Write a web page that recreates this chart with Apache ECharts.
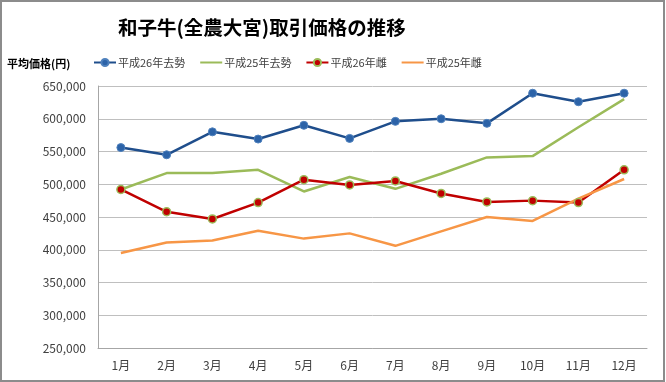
<!DOCTYPE html>
<html>
<head>
<meta charset="utf-8">
<script src="https://cdn.jsdelivr.net/npm/echarts@6/dist/echarts.min.js"></script>
<style>
html,body{margin:0;padding:0;background:#fff;}
#main{width:666px;height:382px;}
</style>
</head>
<body>
<div id="main"></div>
<script>
var categories = ['1月','2月','3月','4月','5月','6月','7月','8月','9月','10月','11月','12月'];
var seriesNames = ['平成26年去勢','平成25年去勢','平成26年雌','平成25年雌'];
var h26Steer = [556000,545000,580000,569000,590000,570000,596000,600000,593000,639000,626000,639000];
var h25Steer = [492000,517000,517000,522000,489000,511000,493000,516000,541000,543000,587000,630000];
var h26Heifer = [492000,458000,447000,472000,507000,499000,505000,486000,473000,475000,472000,522000];
var h25Heifer = [395000,411000,414000,429000,417000,425000,406000,428000,450000,444000,478000,508000];
var yMin = 250000, yMax = 650000, yStep = 50000;
var titleText = '和子牛(全農大宮)取引価格の推移';
var yTitle = '平均価格(円)';

var FONT = '"Noto Sans CJK JP", "Noto Sans", sans-serif';
var chart = echarts.init(document.getElementById('main'));
chart.setOption({
  animation: false,
  backgroundColor: '#ffffff',
  textStyle: {fontFamily: FONT},
  graphic: [{
    type: 'rect', silent: true,
    shape: {x: 1, y: 1, width: 663, height: 380},
    style: {fill: 'none', stroke: '#8c8c8c', lineWidth: 2}
  }],
  title: [{
    text: titleText, left: 113, top: 13,
    textStyle: {fontSize: 19.5, fontWeight: 'bold', color: '#000', fontFamily: FONT}
  }, {
    text: yTitle, left: 2, top: 53,
    textStyle: {fontSize: 11, fontWeight: 'bold', color: '#000', fontFamily: FONT}
  }],
  legend: {
    data: [
      {name: seriesNames[0]},
      {name: seriesNames[1], itemStyle: {opacity: 0}},
      {name: seriesNames[2]},
      {name: seriesNames[3], itemStyle: {opacity: 0}}
    ],
    left: 88, top: 52, itemWidth: 22, itemHeight: 9, itemGap: 14,
    textStyle: {fontSize: 11, color: '#404040', fontFamily: FONT, padding: [0,0,0,-3]}
  },
  grid: {left: 98, right: 19, top: 86, bottom: 34, containLabel: false},
  xAxis: {
    type: 'category', data: categories, boundaryGap: true,
    axisLine: {lineStyle: {color: '#a6a6a6', width: 1}},
    axisTick: {show: false},
    axisLabel: {color: '#404040', fontSize: 12, margin: 11, fontFamily: FONT}
  },
  yAxis: {
    type: 'value', min: yMin, max: yMax, interval: yStep,
    axisLine: {show: true, lineStyle: {color: '#a6a6a6', width: 1}},
    axisTick: {show: false},
    splitLine: {lineStyle: {color: '#bfbfbf', width: 1}},
    axisLabel: {color: '#404040', fontSize: 12, margin: 12, fontFamily: FONT,
      formatter: function(v){ return v.toLocaleString('en-US'); }}
  },
  series: [{
    name: seriesNames[0], type: 'line', data: h26Steer,
    symbol: 'circle', symbolSize: 8,
    lineStyle: {color: '#1f4e8c', width: 2.5},
    itemStyle: {color: '#2c63a8', borderColor: '#4f81bd', borderWidth: 1}
  }, {
    name: seriesNames[1], type: 'line', data: h25Steer,
    symbol: 'none',
    lineStyle: {color: '#9bbb59', width: 2.5},
    itemStyle: {color: '#9bbb59'}
  }, {
    name: seriesNames[2], type: 'line', data: h26Heifer,
    symbol: 'circle', symbolSize: 8, z: 3,
    lineStyle: {color: '#c00000', width: 2.5},
    itemStyle: {color: '#c00000', borderColor: '#9bbb59', borderWidth: 1.5}
  }, {
    name: seriesNames[3], type: 'line', data: h25Heifer,
    symbol: 'none',
    lineStyle: {color: '#f79646', width: 2.5},
    itemStyle: {color: '#f79646'}
  }]
});
</script>
</body>
</html>
